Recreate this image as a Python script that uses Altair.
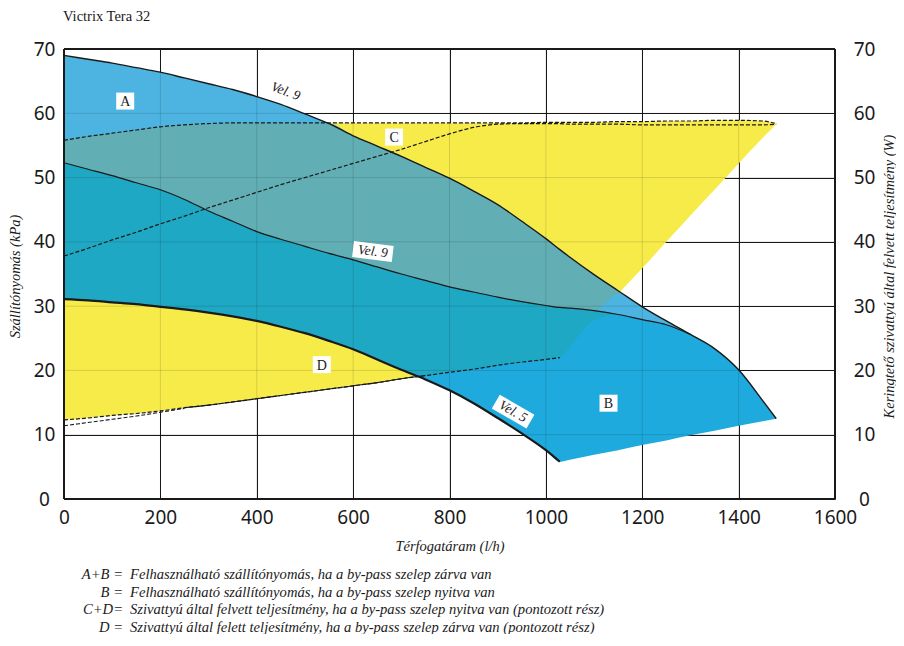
import altair as alt
import pandas as pd

# ---------------- values ----------------
flow = [0, 50, 100, 150, 200, 250, 300, 350, 400, 450, 500, 550, 600, 650, 700, 750,
        800, 850, 900, 950, 1000, 1029, 1050, 1100, 1150, 1200, 1250, 1300, 1350, 1400,
        1450, 1478]
# upper edge of A (Vel. 9, by-pass closed)
vel9_max = [69.0, 68.4, 67.8, 67.1, 66.4, 65.5, 64.6, 63.7, 62.6, 61.4, 59.9, 58.4, 56.5,
            54.9, 53.3, 51.6, 49.9, 47.9, 45.8, 43.2, 40.5, 38.8, 37.6, 34.9, 32.4, 29.9,
            27.7, 25.6, 23.4, 20.1, 15.3, 12.5]
# border between A and B (Vel. 9, by-pass open)
vel9_open = [52.3, 51.3, 50.3, 49.2, 48.1, 46.6, 44.8, 43.2, 41.6, 40.4, 39.3, 38.2, 37.2,
             36.1, 35.0, 34.0, 33.0, 32.2, 31.4, 30.7, 30.1, 29.8, 29.7, 29.3, 28.7, 27.9,
             27.1, 25.6, 23.4, 20.1, 15.3, 12.5]
# lower edge of A+B (Vel. 5 curve, then the bottom edge of B)
ab_lower = [31.1, 30.9, 30.6, 30.3, 29.9, 29.5, 29.0, 28.4, 27.7, 26.8, 25.8, 24.6, 23.3,
            21.7, 20.1, 18.6, 16.9, 14.9, 12.6, 10.2, 7.6, 5.8, 6.1, 6.9, 7.6, 8.4, 9.1,
            9.9, 10.6, 11.4, 12.1, 12.5]
# lower edge of C+D (power, by-pass closed, then the slanted edge)
cd_lower = [12.3, 12.6, 13.0, 13.3, 13.7, 14.2, 14.6, 15.1, 15.6, 16.1, 16.6, 17.1, 17.6,
            18.1, 18.7, 19.2, 19.7, 20.2, 20.8, 21.3, 21.7, 22.0, 23.7, 27.8, 31.9, 35.9,
            40.0, 44.1, 48.1, 52.2, 56.2, 58.3]
# upper edge of C+D (dotted)
cd_upper = [55.8, 56.4, 56.9, 57.4, 57.9, 58.2, 58.4, 58.5, 58.5, 58.5, 58.5, 58.5, 58.5,
            58.5, 58.5, 58.5, 58.5, 58.5, 58.5, 58.5, 58.6, 58.6, 58.6, 58.6, 58.7, 58.7,
            58.8, 58.8, 58.9, 58.9, 58.8, 58.4]
# rising dotted power curve (by-pass open)
power_open = [37.8, 39.0, 40.3, 41.5, 42.8, 44.0, 45.3, 46.5, 47.7, 48.9, 50.0, 51.1, 52.2,
              53.3, 54.4, 55.6, 56.8, 57.8, 58.3, 58.4, 58.4, 58.4, 58.3, 58.3, 58.3, 58.2,
              58.2, 58.2, 58.2, 58.2, 58.2, 58.3]
# second dotted line at the lower left
d_alt_flow = [0, 50, 100, 150, 200, 250]
d_alt_power = [11.4, 11.9, 12.4, 12.9, 13.5, 14.1]

x_ticks = [0, 200, 400, 600, 800, 1000, 1200, 1400, 1600]
y_ticks = [0, 10, 20, 30, 40, 50, 60, 70]

label_text = ["A", "B", "C", "D"]
label_flow = [127, 1130, 685, 535]
label_kpa = [61.9, 14.9, 56.3, 20.9]

vel_text = ["Vel. 9", "Vel. 9", "Vel. 5"]
vel_flow = [460, 641, 932]
vel_kpa = [63.4, 38.5, 13.6]

chart_title = "Victrix Tera 32"
x_title = "Térfogatáram (l/h)"
y_title = "Szállítónyomás (kPa)"
y2_title = "Keringtető szivattyú által felvett teljesítmény (W)"
legend_keys = ["A+B =", "B  =", "C+D=", "D  ="]
legend_desc = [
    "Felhasználható szállítónyomás, ha a by-pass szelep zárva van",
    "Felhasználható szállítónyomás, ha a by-pass szelep nyitva van",
    "Szivattyú által felvett teljesítmény, ha a by-pass szelep nyitva van (pontozott rész)",
    "Szivattyú által felett teljesítmény, ha a by-pass szelep zárva van (pontozott rész)",
]

# ---------------- styling ----------------
INK = "#1a1a1a"
SERIF = "Liberation Serif"
SANS = "Noto Sans"
YELLOW = "#F7EB4A"
BLUE_A = "#4DB4E1"
BLUE_B = "#1FAADD"
TEAL_A = "#61AFB4"
TEAL_B = "#1FA8C3"
vel_angle = [20, 7, 30]

XS = alt.Scale(domain=[0, 1600], nice=False)
YS = alt.Scale(domain=[0, 70], nice=False)

df = pd.DataFrame({"x": flow, "vmax": vel9_max, "vopen": vel9_open, "ablow": ab_lower,
                   "cdlow": cd_lower, "cdup": cd_upper, "pwr": power_open})
df_d = pd.DataFrame({"x": d_alt_flow, "p": d_alt_power})

x_axis = alt.Axis(values=x_ticks, grid=True, gridColor=INK, gridWidth=1, gridOpacity=1,
                  orient="bottom", domain=False, ticks=False, labelPadding=9, format="d",
                  labelFont=SANS, labelFontSize=19, labelColor=INK, labelFlush=False,
                  title=x_title, titleFont=SERIF,
                  titleFontStyle="italic", titleFontWeight="normal", titleFontSize=14.5,
                  titleColor=INK, titleX=385.5, titleY=51, titleAlign="center",
                  titleBaseline="alphabetic")
y_axis_left = alt.Axis(values=y_ticks, grid=True, gridColor=INK, gridWidth=1, gridOpacity=1,
                       orient="left", domain=False, ticks=False,
                       labelPadding=20, labelAlign="center", labelBaseline="middle",
                       labelFont=SANS, labelFontSize=19, labelColor=INK,
                       title=y_title, titleFont=SERIF,
                       titleFontStyle="italic", titleFontWeight="normal", titleFontSize=14.5,
                       titleColor=INK, titleAngle=270, titleX=-45, titleY=227,
                       titleAlign="center", titleBaseline="alphabetic")
y_axis_right = alt.Axis(values=y_ticks, grid=False, orient="right", domain=False,
                        ticks=False, labelPadding=29, labelAlign="center",
                        labelBaseline="middle", labelFont=SANS, labelFontSize=19,
                        labelColor=INK,
                        title=y2_title, titleFont=SERIF, titleFontStyle="italic",
                        titleFontWeight="normal", titleFontSize=14.5, titleColor=INK,
                        titleAngle=270, titleX=58, titleY=227, titleAlign="center",
                        titleBaseline="alphabetic")

X0 = alt.X("x:Q", scale=XS, axis=None)
base = alt.Chart(df)

yellow = base.mark_area(interpolate="monotone", color=YELLOW, opacity=1).encode(
    x=alt.X("x:Q", scale=XS, axis=x_axis),
    y=alt.Y("cdup:Q", scale=YS, axis=y_axis_left), y2="cdlow:Q")
area_a = base.mark_area(interpolate="monotone", color=BLUE_A, opacity=1).encode(
    x=X0, y=alt.Y("vmax:Q", scale=YS, axis=None), y2="vopen:Q")
area_b = base.mark_area(interpolate="monotone", color=BLUE_B, opacity=1).encode(
    x=X0, y=alt.Y("vopen:Q", scale=YS, axis=None), y2="ablow:Q")
teal_a = base.transform_calculate(
    lo="max(datum.vopen, datum.cdlow)", hi="min(datum.vmax, datum.cdup)"
).transform_calculate(lo2="min(datum.lo, datum.hi)").mark_area(
    interpolate="monotone", color=TEAL_A, opacity=1).encode(
    x=X0, y=alt.Y("hi:Q", scale=YS, axis=None), y2="lo2:Q")
teal_b = base.transform_calculate(
    lo="max(datum.ablow, datum.cdlow)", hi="min(datum.vopen, datum.cdup)"
).transform_calculate(lo2="min(datum.lo, datum.hi)").mark_area(
    interpolate="monotone", color=TEAL_B, opacity=1).encode(
    x=X0, y=alt.Y("hi:Q", scale=YS, axis=None), y2="lo2:Q")

faint_x = alt.Chart(pd.DataFrame({"g": x_ticks[1:-1]})).mark_rule(
    color="black", opacity=0.13, strokeWidth=1).encode(x=alt.X("g:Q", scale=XS, axis=None))
faint_y = alt.Chart(pd.DataFrame({"g": y_ticks[1:-1]})).mark_rule(
    color="black", opacity=0.13, strokeWidth=1).encode(y=alt.Y("g:Q", scale=YS, axis=None))


def curve(field, cond=None, width=1.2, dash=None, data=None, axis=None):
    ch = alt.Chart(df if data is None else data)
    if cond:
        ch = ch.transform_filter(cond)
    kw = dict(interpolate="monotone", color=INK, strokeWidth=width)
    if dash:
        kw["strokeDash"] = dash
    return ch.mark_line(**kw).encode(x=X0, y=alt.Y(field + ":Q", scale=YS, axis=axis))


line_max = curve("vmax", width=1.4)
line_open = curve("vopen", "datum.x <= 1300", width=1.2)
line_vel5 = curve("ablow", "datum.x <= 1029", width=2.2)
line_dsolid = curve("cdlow", "datum.x >= 250 && datum.x <= 750", width=1.1)

dash_top = curve("cdup", width=1.2, dash=[4, 2], axis=y_axis_right)
dash_pwr = curve("pwr", width=1.2, dash=[4, 2])
dash_low = curve("cdlow", "datum.x <= 1029", width=1.2, dash=[4, 2])
dash_d = curve("p", width=1.1, dash=[4, 2], data=df_d)

frame_x = alt.Chart(pd.DataFrame({"f": [0, 1600]})).mark_rule(
    color=INK, strokeWidth=2).encode(x=alt.X("f:Q", scale=XS, axis=None))
frame_y = alt.Chart(pd.DataFrame({"f": [0, 70]})).mark_rule(
    color=INK, strokeWidth=2).encode(y=alt.Y("f:Q", scale=YS, axis=None))

df_lab = pd.DataFrame({"t": label_text, "x": label_flow, "y": label_kpa})
lab_box = alt.Chart(df_lab).mark_point(
    shape="M-0.9,-0.85L0.9,-0.85L0.9,0.85L-0.9,0.85Z", size=400, filled=True,
    color="white", opacity=1, strokeWidth=0).encode(
    x=X0, y=alt.Y("y:Q", scale=YS, axis=None))
lab_txt = alt.Chart(df_lab).mark_text(font=SERIF, fontSize=14, color=INK, align="center",
                                      baseline="middle", dy=1).encode(
    x=X0, y=alt.Y("y:Q", scale=YS, axis=None), text="t:N")

df_vel = pd.DataFrame({"t": vel_text, "x": vel_flow, "y": vel_kpa, "a": vel_angle})
vel_box = alt.Chart(df_vel.iloc[1:]).mark_point(
    shape="M-2,-0.8L2,-0.8L2,0.8L-2,0.8Z", size=400, filled=True, color="white",
    opacity=1, strokeWidth=0).encode(
    x=X0, y=alt.Y("y:Q", scale=YS, axis=None), angle=alt.Angle("a:Q", scale=None))
vel_txt = alt.Chart(df_vel).mark_text(font=SERIF, fontStyle="italic", fontSize=13.5,
                                      color=INK, align="center", baseline="middle").encode(
    x=X0, y=alt.Y("y:Q", scale=YS, axis=None), text="t:N",
    angle=alt.Angle("a:Q", scale=None))


def free_text(s, x, y, size, style="normal", align="left"):
    return alt.Chart(pd.DataFrame({"t": [s]})).mark_text(
        font=SERIF, fontSize=size, fontStyle=style, align=align, baseline="alphabetic",
        color=INK).encode(text="t:N", x=alt.value(x), y=alt.value(y))


texts = [free_text(chart_title, -1, -28, 14.5)]
for i, (k, d) in enumerate(zip(legend_keys, legend_desc)):
    yy = 530 + 17.5 * i
    texts.append(free_text(k, 59, yy, 14.6, "italic", "right"))
    texts.append(free_text(d, 66, yy, 14.6, "italic", "left"))

chart = alt.layer(
    yellow, area_a, area_b, teal_a, teal_b, faint_x, faint_y,
    line_max, line_open, line_vel5, line_dsolid,
    dash_top, dash_pwr, dash_low, dash_d, frame_x, frame_y,
    lab_box, lab_txt, vel_box, vel_txt, *texts
).resolve_scale(x="independent", y="independent").properties(
    width=771, height=450,
    padding={"left": 56, "top": 41, "right": 61, "bottom": 135},
    autosize=alt.AutoSizeParams(type="none"),
).configure_view(stroke=None)

chart.save("out.html", embed_options={"renderer": "svg", "actions": False})
